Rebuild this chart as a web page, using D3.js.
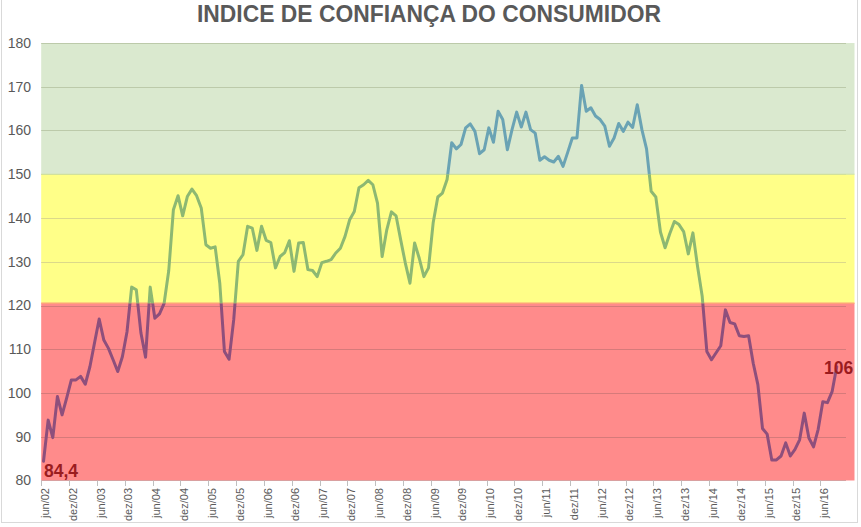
<!DOCTYPE html>
<html><head><meta charset="utf-8">
<script src="https://cdn.jsdelivr.net/npm/d3@7"></script>
<style>body{margin:0;background:#fff}svg{display:block}</style>
</head><body>
<script>
const title = "INDICE DE CONFIANÇA DO CONSUMIDOR";
const values = [84.4,93.8,89.8,99.2,95.0,98.9,103.0,103.0,103.8,102.0,106.0,111.5,116.9,112.1,110.2,107.6,104.9,108.3,114.0,124.2,123.6,113.7,108.2,124.2,117.1,118.1,120.5,128.0,141.9,145.1,140.5,144.9,146.6,145.1,142.3,133.9,133.1,133.4,125.1,109.5,107.7,116.7,130.1,131.6,138.1,137.7,132.6,138.1,134.9,134.4,128.6,131.2,132.1,134.8,127.8,134.3,134.4,128.2,128.0,126.6,129.8,130.1,130.5,132.0,133.1,135.8,139.6,141.5,146.9,147.6,148.6,147.6,143.4,131.2,137.3,141.4,140.5,135.0,129.7,125.1,134.3,130.8,126.6,128.6,138.9,144.8,145.7,148.8,157.2,155.8,156.8,160.6,161.5,159.8,154.7,155.6,160.6,157.3,164.4,162.5,155.6,160.2,164.2,160.8,164.2,160.2,159.4,153.2,154.0,153.2,152.8,154.1,151.8,155.0,158.3,158.3,170.3,164.4,165.2,163.3,162.5,161.0,156.4,158.3,161.6,159.8,161.9,160.7,165.9,160.2,155.8,146.1,144.8,136.8,133.2,136.4,139.2,138.5,136.9,131.8,136.6,128.9,122.1,109.5,107.6,109.2,110.8,119.0,116.1,115.8,113.1,112.9,113.1,106.8,101.9,91.9,90.6,84.7,84.7,85.6,88.6,85.6,87.1,89.3,95.4,89.7,87.7,91.7,98.0,97.8,100.3,106];
const tickLabels = ["jun/02","dez/02","jun/03","dez/03","jun/04","dez/04","jun/05","dez/05","jun/06","dez/06","jun/07","dez/07","jun/08","dez/08","jun/09","dez/09","jun/10","dez/10","jun/11","dez/11","jun/12","dez/12","jun/13","dez/13","jun/14","dez/14","jun/15","dez/15","jun/16"];
const yTicks = [80,90,100,110,120,130,140,150,160,170,180];
const bands = [
  {name:"ruim", from:80, to:120.5, fill:"#ff8b8b", line:"#8e4f7c", grid:"#d67a7a"},
  {name:"medio", from:120.5, to:150, fill:"#ffff88", line:"#8db872", grid:"#dcd98a"},
  {name:"bom", from:150, to:180, fill:"#dae9cf", line:"#6aa3b4", grid:"#bccaaa"}
];
const dataLabels = [{i:0, text:"84,4"}, {i:values.length-1, text:"106"}];

const W = 861, H = 527;
const svg = d3.select("body").append("svg").attr("width", W).attr("height", H);
svg.append("rect").attr("width", W).attr("height", H).attr("fill", "#fff");
svg.append("rect").attr("x", 1.5).attr("y", -5).attr("width", 856).attr("height", 527.5)
  .attr("fill", "none").attr("stroke", "#d9d9d9");

const x = d3.scaleLinear().domain([-0.5, 173]).range([41.2, 846]);
const y = d3.scaleLinear().domain([80, 180]).range([480.5, 43]);
const bandRight = 854.5;

bands.forEach(b => {
  svg.append("rect").attr("x", x(-0.5)).attr("width", bandRight - x(-0.5))
    .attr("y", y(b.to)).attr("height", y(b.from) - y(b.to)).attr("fill", b.fill);
});
yTicks.filter(t => t > 80).forEach(t => {
  const b = bands.find(b => t > b.from && t <= b.to) || bands[2];
  svg.append("line").attr("x1", x(-0.5)).attr("x2", 846)
    .attr("y1", Math.round(y(t)) + 0.5).attr("y2", Math.round(y(t)) + 0.5)
    .attr("stroke", b.grid).attr("stroke-width", 1);
});
svg.append("line").attr("x1", x(-0.5)).attr("x2", bandRight)
  .attr("y1", y(120.5)).attr("y2", y(120.5)).attr("stroke", "#ffa27a").attr("stroke-width", 1.5);
svg.append("line").attr("x1", x(-0.5)).attr("x2", bandRight)
  .attr("y1", y(150)).attr("y2", y(150)).attr("stroke", "#cfe3a0").attr("stroke-width", 1.2);

const defs = svg.append("defs");
bands.forEach(b => {
  defs.append("clipPath").attr("id", "clip-" + b.name).append("rect")
    .attr("x", 0).attr("width", W)
    .attr("y", b.name === "bom" ? 0 : y(b.to))
    .attr("height", b.name === "ruim" ? H - y(b.to) : y(b.from) - (b.name === "bom" ? 0 : y(b.to)));
});
const lineGen = d3.line().x((d, i) => x(i)).y(d => y(d));
bands.forEach(b => {
  svg.append("path").datum(values).attr("d", lineGen)
    .attr("fill", "none").attr("stroke", b.line).attr("stroke-width", 3)
    .attr("stroke-linejoin", "round").attr("stroke-linecap", "round")
    .attr("clip-path", "url(#clip-" + b.name + ")");
});

const axisG = svg.append("g");
axisG.append("line").attr("x1", x(-0.5)).attr("x2", 846).attr("y1", 480.5).attr("y2", 480.5)
  .attr("stroke", "#d9a0a0").attr("stroke-width", 1);
tickLabels.forEach((lab, k) => {
  const i = k * 6;
  const tx = Math.round(x(i - 0.5)) + 0.5;
  axisG.append("line").attr("x1", tx).attr("x2", tx).attr("y1", 480.5).attr("y2", 486)
    .attr("stroke", "#bfbfbf");
  axisG.append("text").attr("transform", `translate(${x(i) + 1.5},488) rotate(-90)`)
    .attr("text-anchor", "end").attr("dy", "0.35em")
    .attr("font-family", "'Liberation Sans Narrow','Arial Narrow','Liberation Sans',sans-serif")
    .attr("font-size", 11).attr("fill", "#595959").text(lab);
});
yTicks.forEach(t => {
  svg.append("text").attr("x", 31).attr("y", y(t)).attr("dy", "0.35em")
    .attr("text-anchor", "end")
    .attr("font-family", "'Liberation Sans Narrow','Arial Narrow','Liberation Sans',sans-serif")
    .attr("font-size", 14).attr("fill", "#595959").text(t);
});

svg.append("text").attr("x", x(0) + 0.5).attr("y", 477)
  .attr("font-family", "'Liberation Sans',Arial,sans-serif").attr("font-weight", "bold")
  .attr("font-size", 17.5).attr("fill", "#9b1c1f").text(dataLabels[0].text);
svg.append("text").attr("x", x(dataLabels[1].i) + 2).attr("y", 374).attr("text-anchor", "middle")
  .attr("font-family", "'Liberation Sans',Arial,sans-serif").attr("font-weight", "bold")
  .attr("font-size", 17.5).attr("fill", "#9b1c1f").text(dataLabels[1].text);

svg.append("text").attr("x", 429).attr("y", 22).attr("text-anchor", "middle")
  .attr("font-family", "'Liberation Sans Narrow','Arial Narrow','Liberation Sans',sans-serif")
  .attr("font-weight", "bold").attr("font-size", 24).attr("fill", "#595959")
  .attr("textLength", 464).attr("lengthAdjust", "spacingAndGlyphs").text(title);
</script>
</body></html>
